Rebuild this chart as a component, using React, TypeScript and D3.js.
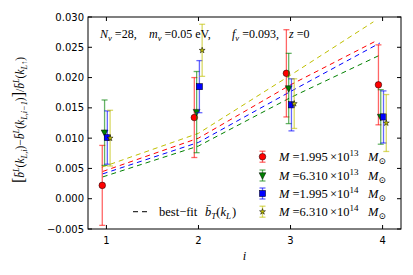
import React from 'react';
import * as d3 from 'd3';

// bin index
const bins = [1, 2, 3, 4];
const massLabels = ['1.995', '6.310', '1.995', '6.310'];
const massExps = ['13', '13', '14', '14'];
const colors = ['#ff0000', '#008000', '#0000ff', '#bfbf00'];
const shapes = ['circle', 'triangle', 'square', 'star'];
const offsets = [-0.045, -0.02, 0.01, 0.04];

// measured ratio and its error per mass bin
const redVals = [0.0022, 0.0134, 0.0207, 0.0188];
const redErr = [0.0066, 0.0066, 0.0072, 0.0066];
const greenVals = [0.0109, 0.0143, 0.0182, 0.0135];
const greenErr = [0.0054, 0.0067, 0.0058, 0.0045];
const blueVals = [0.0101, 0.0185, 0.0155, 0.0135];
const blueErr = [0.0044, 0.0043, 0.0043, 0.0043];
const yellowVals = [0.0100, 0.0245, 0.0157, 0.0125];
const yellowErr = [0.0046, 0.0043, 0.0041, 0.0047];

// best-fit curves
const fitRedX = [0.96, 2, 3, 3.91];
const fitRedY = [0.0045, 0.0100, 0.0188, 0.0259];
const fitGreenX = [0.96, 2, 3, 3.97];
const fitGreenY = [0.0036, 0.0087, 0.0167, 0.0237];
const fitBlueX = [0.96, 2, 3, 3.97];
const fitBlueY = [0.0041, 0.0093, 0.0177, 0.0257];
const fitYellowX = [0.95, 2, 3, 3.9];
const fitYellowY = [0.0052, 0.0108, 0.0204, 0.0292];

const xTicks = [1, 2, 3, 4];
const yTicks = [-0.005, 0, 0.005, 0.01, 0.015, 0.02, 0.025, 0.03];

const series = [
  { vals: redVals, err: redErr, fx: fitRedX, fy: fitRedY },
  { vals: greenVals, err: greenErr, fx: fitGreenX, fy: fitGreenY },
  { vals: blueVals, err: blueErr, fx: fitBlueX, fy: fitBlueY },
  { vals: yellowVals, err: yellowErr, fx: fitYellowX, fy: fitYellowY },
];

const SERIF = "'Liberation Serif', 'DejaVu Serif', serif";
const SANS = "'DejaVu Sans', sans-serif";
const SP = '\u00a0';

type Seg = { t: string; it?: boolean; sub?: boolean; sup?: boolean; fs?: number; dx?: number; x?: number };

function MathText({ segs, fs, ...rest }: { segs: Seg[]; fs: number; [k: string]: any }) {
  return (
    <text fontFamily={SERIF} fontSize={fs} {...rest}>
      {segs.map((s, i) => (
        <tspan
          key={i}
          x={s.x}
          fontStyle={s.it ? 'italic' : 'normal'}
          fontSize={s.fs ?? (s.sub || s.sup ? fs * 0.72 : fs)}
          baselineShift={s.sub ? -fs * 0.25 : s.sup ? fs * 0.4 : 0}
          dx={s.dx ?? 0}
        >
          {s.t}
        </tspan>
      ))}
    </text>
  );
}

function Marker({ shape, x, y, color }: { shape: string; x: number; y: number; color: string }) {
  const stroke = '#000';
  if (shape === 'circle') return <circle cx={x} cy={y} r={3.3} fill={color} stroke={stroke} strokeWidth={0.5} />;
  if (shape === 'square') {
    const s = 3.1;
    return <rect x={x - s} y={y - s} width={2 * s} height={2 * s} fill={color} stroke={stroke} strokeWidth={0.5} />;
  }
  if (shape === 'triangle') {
    const s = 3.4;
    return <path d={`M${x - s},${y - s * 0.8}L${x + s},${y - s * 0.8}L${x},${y + s * 1.1}Z`} fill={color} stroke={stroke} strokeWidth={0.5} />;
  }
  const star = d3.symbol().type(d3.symbolStar).size(11)();
  return <path d={star || ''} transform={`translate(${x},${y})`} fill={color} stroke={stroke} strokeWidth={0.5} />;
}

export default function App() {
  const x = d3.scaleLinear().domain([0.8, 4.2]).range([88, 401]);
  const y = d3.scaleLinear().domain([-0.005, 0.03]).range([229, 17]);
  const fmt = d3.format('.3f');
  const line = d3.line<[number, number]>().x(d => x(d[0])).y(d => y(d[1]));
  const [x0, x1] = x.range();
  const [y0, y1] = y.range();

  const legendRows = [156.7, 175.5, 193.5, 211.7];

  const yLabel: Seg[] = [
    { t: '[', fs: 16 },
    { t: 'b\u0304', it: true }, { t: 'L', it: true, sup: true }, { t: '(' }, { t: 'k', it: true }, { t: 'L,i', it: true, sub: true }, { t: ')' },
    { t: '\u2212' },
    { t: 'b\u0304', it: true }, { t: 'L', it: true, sup: true }, { t: '(' }, { t: 'k', it: true }, { t: 'L,i\u22121', it: true, sub: true }, { t: ')' },
    { t: ']', fs: 16 },
    { t: '/' },
    { t: 'b\u0304', it: true }, { t: 'L', it: true, sup: true }, { t: '(' }, { t: 'k', it: true }, { t: 'L\u2191', it: true, sub: true }, { t: ')' },
  ];

  const note: Seg[] = [
    { t: 'N', it: true, x: 100 }, { t: '\u03bd', it: true, sub: true }, { t: SP + '=28,' },
    { t: 'm', it: true, x: 149 }, { t: '\u03bd', it: true, sub: true }, { t: SP + '=0.05' + SP + 'eV,' },
    { t: 'f', it: true, x: 232 }, { t: '\u03bd', it: true, sub: true }, { t: SP + '=0.093,' },
    { t: 'z', it: true, x: 289 }, { t: SP + '=0' },
  ];

  return (
    <svg width={413} height={275} style={{ position: 'absolute', left: 0, top: 0, background: '#fff' }}>
      {/* best-fit lines */}
      {series.map((s, si) => (
        <path
          key={'fit' + si}
          d={line(s.fx.map((v, j) => [v, s.fy[j]] as [number, number])) || ''}
          fill="none"
          stroke={colors[si]}
          strokeWidth={1}
          strokeDasharray="5,4"
        />
      ))}

      {/* error bars + markers */}
      {series.map((s, si) => (
        <g key={'ser' + si}>
          {bins.map((b, j) => {
            const cx = x(b + offsets[si]);
            const top = y(s.vals[j] + s.err[j]);
            const bot = y(s.vals[j] - s.err[j]);
            return (
              <g key={j} stroke={colors[si]} strokeOpacity={0.6} strokeWidth={1.3}>
                <line x1={cx} x2={cx} y1={top} y2={bot} />
                <line x1={cx - 3} x2={cx + 3} y1={top} y2={top} />
                <line x1={cx - 3} x2={cx + 3} y1={bot} y2={bot} />
              </g>
            );
          })}
          {bins.map((b, j) => (
            <Marker key={'m' + j} shape={shapes[si]} x={x(b + offsets[si])} y={y(s.vals[j])} color={colors[si]} />
          ))}
        </g>
      ))}

      {/* frame */}
      <rect x={x0} y={y1} width={x1 - x0} height={y0 - y1} fill="none" stroke="#000" strokeWidth={1} />

      {/* ticks */}
      {xTicks.map(t => (
        <g key={'xt' + t}>
          <line x1={x(t)} x2={x(t)} y1={y0} y2={y0 - 4} stroke="#000" />
          <line x1={x(t)} x2={x(t)} y1={y1} y2={y1 + 4} stroke="#000" />
          <text x={x(t)} y={y0 + 15} textAnchor="middle" fontFamily={SANS} fontSize={10}>{t}</text>
        </g>
      ))}
      {yTicks.map(t => (
        <g key={'yt' + t}>
          <line x1={x0} x2={x0 + 4} y1={y(t)} y2={y(t)} stroke="#000" />
          <line x1={x1} x2={x1 - 4} y1={y(t)} y2={y(t)} stroke="#000" />
          <text x={x0 - 4} y={y(t) + 3.6} textAnchor="end" fontFamily={SANS} fontSize={10}>{fmt(t)}</text>
        </g>
      ))}

      {/* axis labels */}
      <text x={(x0 + x1) / 2} y={260} textAnchor="middle" fontFamily={SERIF} fontStyle="italic" fontSize={12.5}>i</text>
      <MathText segs={yLabel} fs={11.5} textAnchor="middle" transform={`translate(24,${(y0 + y1) / 2 - 3}) rotate(-90)`} />

      {/* annotation */}
      <MathText segs={note} fs={12} y={38} />

      {/* legend */}
      {legendRows.map((ly, i) => (
        <g key={'lg' + i}>
          <g stroke={colors[i]} strokeOpacity={0.6} strokeWidth={1.3}>
            <line x1={262.5} x2={262.5} y1={ly - 5.5} y2={ly + 5.5} />
            <line x1={259.5} x2={265.5} y1={ly - 5.5} y2={ly - 5.5} />
            <line x1={259.5} x2={265.5} y1={ly + 5.5} y2={ly + 5.5} />
          </g>
          <Marker shape={shapes[i]} x={262.5} y={ly} color={colors[i]} />
          <MathText
            fs={12.5}
            y={ly + 4}
            segs={[
              { t: 'M', it: true, x: 279 }, { t: SP + '=' + massLabels[i] }, { t: '\u00d710', x: 330 }, { t: massExps[i], sup: true },
              { t: 'M', it: true, x: 368 }, { t: '\u2299', sub: true },
            ]}
          />
        </g>
      ))}
      <line x1={133} x2={151} y1={211.7} y2={211.7} stroke="#333" strokeWidth={1.2} strokeDasharray="5,4" />
      <MathText
        fs={12.5}
        y={215.7}
        segs={[
          { t: 'best\u2212fit', x: 159 }, { t: 'b\u0304', it: true, x: 205 }, { t: 'T', it: true, sub: true }, { t: '(' }, { t: 'k', it: true }, { t: 'L', it: true, sub: true }, { t: ')', dx: 1 },
        ]}
      />
    </svg>
  );
}
